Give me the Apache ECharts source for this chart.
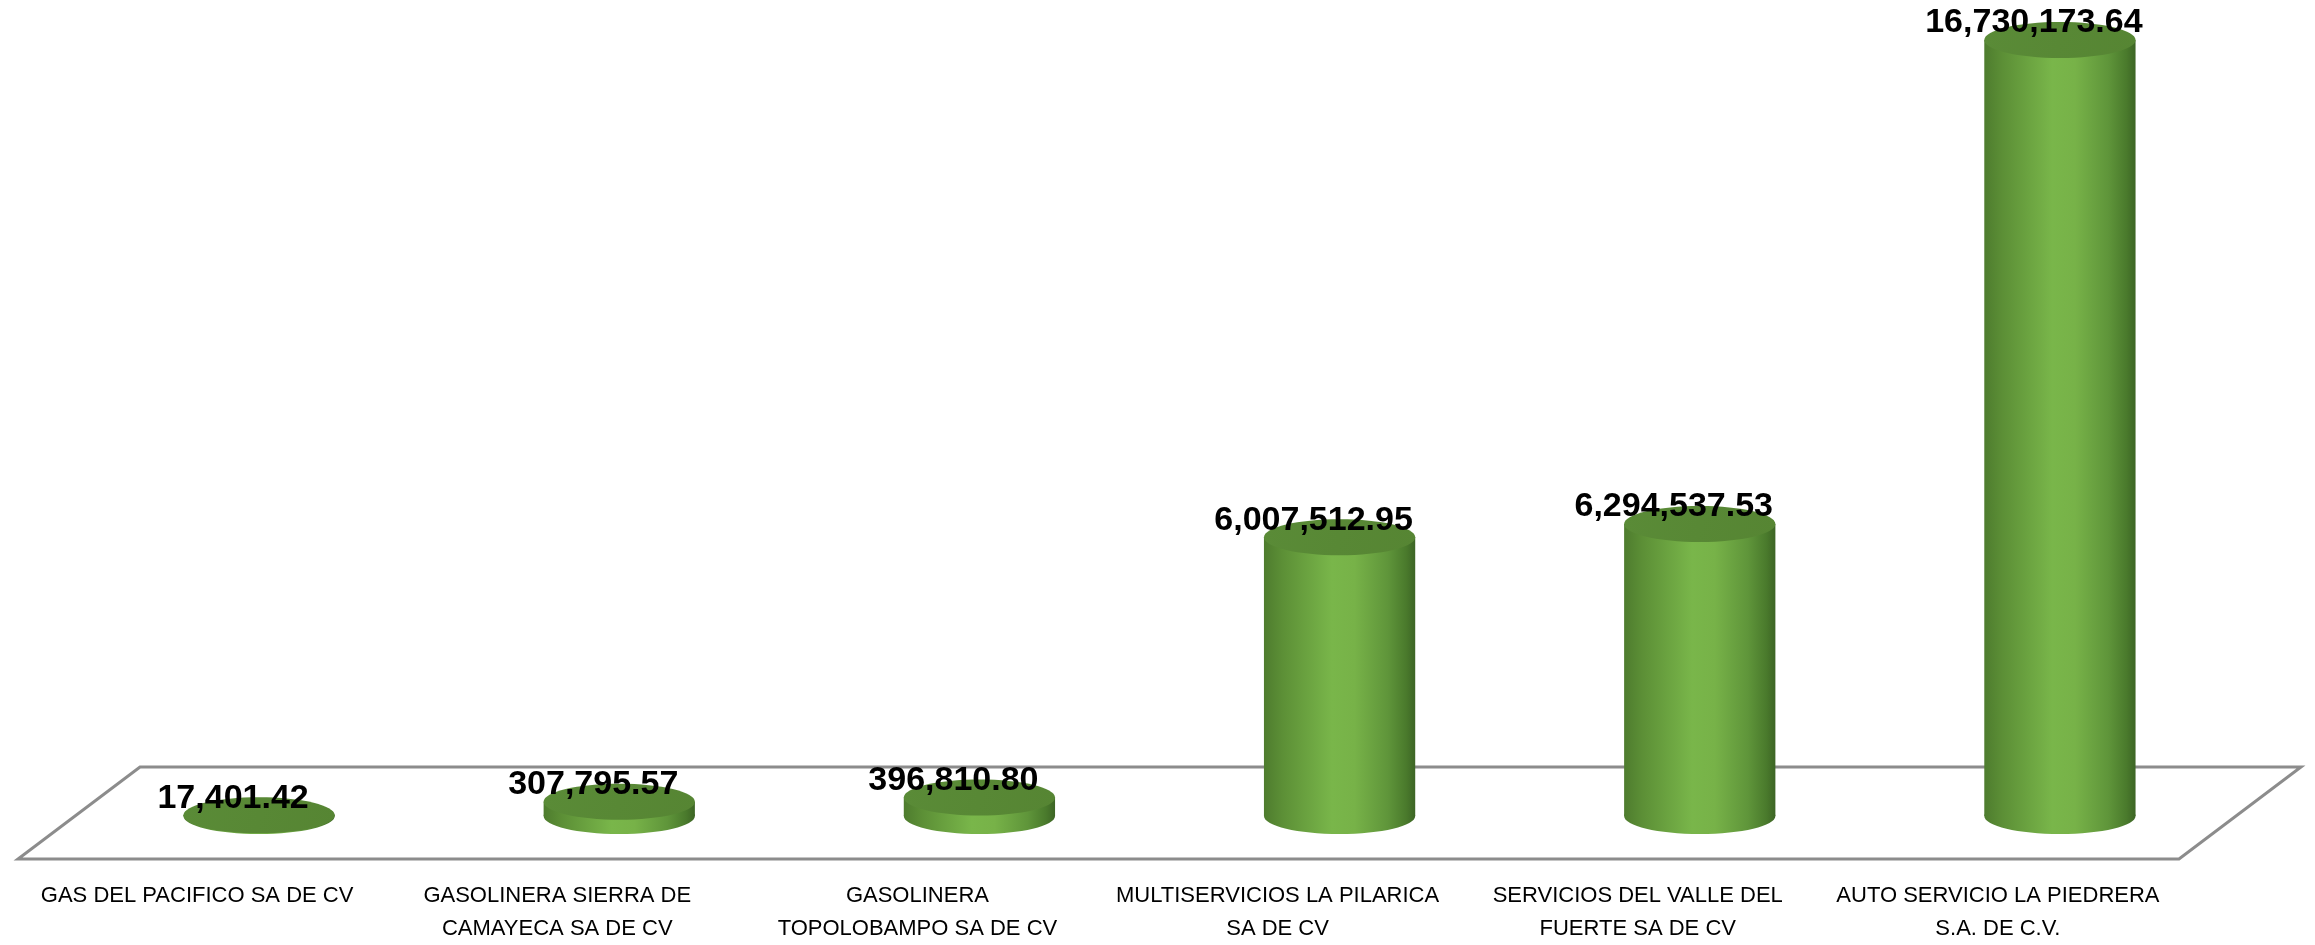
<!DOCTYPE html>
<html>
<head>
<meta charset="utf-8">
<script src="https://cdn.jsdelivr.net/npm/echarts@6/dist/echarts.min.js"></script>
<style>
  html, body { margin: 0; padding: 0; background: #ffffff; }
  #chart { width: 2315px; height: 945px; }
</style>
</head>
<body>
<div id="chart"></div>
<script>
// ---- data ----
const categories = [
  "GAS DEL PACIFICO SA DE CV",
  "GASOLINERA SIERRA DE CAMAYECA SA DE CV",
  "GASOLINERA TOPOLOBAMPO SA DE CV",
  "MULTISERVICIOS LA PILARICA SA DE CV",
  "SERVICIOS DEL VALLE DEL FUERTE SA DE CV",
  "AUTO SERVICIO LA PIEDRERA S.A. DE C.V."
];
const tickLabels = [
  "GAS DEL PACIFICO SA DE CV",
  "GASOLINERA SIERRA DE\nCAMAYECA SA DE CV",
  "GASOLINERA\nTOPOLOBAMPO SA DE CV",
  "MULTISERVICIOS LA PILARICA\nSA DE CV",
  "SERVICIOS DEL VALLE DEL\nFUERTE SA DE CV",
  "AUTO SERVICIO LA PIEDRERA\nS.A. DE C.V."
];
const values = [17401.42, 307795.57, 396810.80, 6007512.95, 6294537.53, 16730173.64];

// ---- helpers ----
function fmt(v) {
  return v.toLocaleString('en-US', { minimumFractionDigits: 2, maximumFractionDigits: 2 });
}
const barFraction = 0.42;
const ellipseRy = 18;

function cylinderItem(params, api) {
  const idx = api.value(0);
  const val = api.value(1);
  const top = api.coord([idx, val]);
  const base = api.coord([idx, 0]);
  const band = api.size([1, 0])[0];
  const w = band * barFraction;
  const rx = w / 2;
  const cx = top[0];
  const bodyGrad = new echarts.graphic.LinearGradient(0, 0, 1, 0, [
    { offset: 0, color: '#4e7c2e' },
    { offset: 0.12, color: '#5c8f36' },
    { offset: 0.45, color: '#79b64a' },
    { offset: 0.6, color: '#77b248' },
    { offset: 0.82, color: '#5f953a' },
    { offset: 0.94, color: '#4a7a2c' },
    { offset: 1, color: '#3d6525' }
  ]);
  const topGrad = new echarts.graphic.LinearGradient(0, 0, 1, 1, [
    { offset: 0, color: '#5a8b37' },
    { offset: 1, color: '#568533' }
  ]);
  return {
    type: 'group',
    children: [
      { type: 'ellipse', shape: { cx: cx, cy: base[1], rx: rx, ry: ellipseRy }, style: { fill: bodyGrad } },
      { type: 'rect', shape: { x: cx - rx, y: top[1], width: w, height: Math.max(0, base[1] - top[1]) }, style: { fill: bodyGrad } },
      { type: 'ellipse', shape: { cx: cx, cy: top[1], rx: rx, ry: ellipseRy }, style: { fill: topGrad } },
      {
        type: 'text',
        z2: 10,
        style: {
          text: fmt(val),
          x: cx - 26,
          y: top[1] - 17,
          align: 'center',
          verticalAlign: 'middle',
          fontFamily: 'Liberation Sans, Arial, sans-serif',
          fontWeight: 'bold',
          fontSize: 34,
          fill: '#000000'
        }
      }
    ]
  };
}

function floorItem(params, api) {
  const cs = params.coordSys;
  const left = cs.x, right = cs.x + cs.width;
  const base = cs.y + cs.height;
  const skew = 61;
  return {
    type: 'polygon',
    shape: {
      points: [
        [left + skew, base - 49],
        [right + skew, base - 49],
        [right - skew, base + 43],
        [left - skew, base + 43]
      ]
    },
    style: { fill: '#ffffff', stroke: '#8c8c8c', lineWidth: 3 }
  };
}

const chart = echarts.init(document.getElementById('chart'), null, { renderer: 'canvas' });
chart.setOption({
  backgroundColor: '#ffffff',
  animation: false,
  grid: { left: 79, right: 75, top: 40, bottom: 125, containLabel: false },
  xAxis: {
    type: 'category',
    data: categories,
    axisLine: { show: false },
    axisTick: { show: false },
    splitLine: { show: false },
    axisLabel: {
      interval: 0,
      margin: 63,
      padding: [0, 124, 0, 0],
      fontFamily: 'Liberation Sans, Arial, sans-serif',
      fontSize: 22,
      lineHeight: 33,
      color: '#000000',
      formatter: function (v, i) { return tickLabels[i]; }
    }
  },
  yAxis: {
    type: 'value',
    min: 0,
    max: Math.max.apply(null, values),
    show: false,
    splitLine: { show: false }
  },
  series: [
    {
      type: 'custom',
      z: 1,
      renderItem: floorItem,
      data: [[0, 0]],
      encode: { x: 0, y: 1 },
      silent: true
    },
    {
      type: 'custom',
      z: 2,
      renderItem: cylinderItem,
      data: values.map(function (v, i) { return [i, v]; }),
      encode: { x: 0, y: 1 }
    }
  ]
});
</script>
</body>
</html>
